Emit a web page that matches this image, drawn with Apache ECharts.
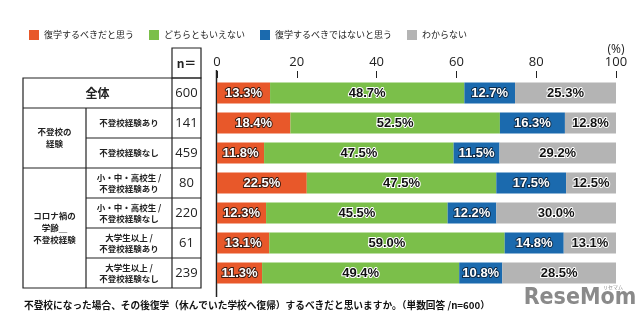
<!DOCTYPE html>
<html><head><meta charset="utf-8">
<script src="https://cdn.jsdelivr.net/npm/echarts@6/dist/echarts.min.js"></script>
<style>html,body{margin:0;padding:0;background:#fff}#c{width:640px;height:322px}</style>
</head><body><div id="c"></div>
<script>
// ---- data ----
const legendNames = ['復学するべきだと思う','どちらともいえない','復学するべきではないと思う','わからない'];
const rowLabels = ['全体','不登校経験あり','不登校経験なし','小・中・高校生 /\n不登校経験あり','小・中・高校生 /\n不登校経験なし','大学生以上 /\n不登校経験あり','大学生以上 /\n不登校経験なし'];
const nValues = [600,141,459,80,220,61,239];
const groupLabels = ['不登校の\n経験','コロナ禍の\n学齢＿\n不登校経験'];
const groupRows = [[1,2],[3,6]];
const shouldReturn = [13.3,18.4,11.8,22.5,12.3,13.1,11.3];
const neither = [48.7,52.5,47.5,47.5,45.5,59.0,49.4];
const shouldNot = [12.7,16.3,11.5,17.5,12.2,14.8,10.8];
const unknown = [25.3,12.8,29.2,12.5,30.0,13.1,28.5];
const xTicks = [0,20,40,60,80,100];
const footerText = '不登校になった場合、その後復学（休んでいた学校へ復帰）するべきだと思いますか。（単数回答 /n=600）';

const colors = ['#E8582A','#7BBF4A','#1B6AAE','#B4B4B4'];
const seriesData = [shouldReturn, neither, shouldNot, unknown];
const labelFill = ['#fff','#111','#fff','#111'];
const labelStroke = ['#3a1a10','#fff','#0d2a48','#fff'];
const numFont = "'Liberation Sans',sans-serif";
const jpFont = "'Noto Sans CJK JP',sans-serif";

const chart = echarts.init(document.getElementById('c'), null, {renderer:'canvas'});
chart.setOption({
  animation:false,
  legend:{left:24, top:25, itemWidth:10, itemHeight:10, itemGap:15, icon:'rect',
    textStyle:{fontSize:9, color:'#222', fontFamily:jpFont}, data:legendNames},
  grid:{left:217, right:24, top:78, height:210},
  xAxis:{type:'value', position:'top', min:0, max:100, interval:20,
    axisLine:{show:false}, splitLine:{show:false},
    axisTick:{show:true, length:7, lineStyle:{color:'#222', width:1}},
    axisLabel:{margin:9, fontSize:13, color:'#222', fontFamily:"'Open Sans',sans-serif",
      formatter:v=>xTicks.includes(v)?String(v):''}},
  yAxis:{type:'category', inverse:true, data:rowLabels,
    axisLine:{show:false}, axisTick:{show:false}, axisLabel:{show:false}},
  series: legendNames.map((name,i)=>({
    name, type:'bar', stack:'all', barWidth:21, data:seriesData[i],
    itemStyle:{color:colors[i]},
    label:{show:true, position:'inside', formatter:p=>p.value.toFixed(1)+'%',
      fontFamily:numFont, fontWeight:'bold', fontSize:13, color:labelFill[i],
      textBorderColor:labelStroke[i], textBorderWidth:2}
  }))
});

// ---- table & decorations positioned from axis scales ----
const yc = i => chart.convertToPixel({yAxisIndex:0}, i);
const x0 = chart.convertToPixel({xAxisIndex:0}, 0);
const x100 = chart.convertToPixel({xAxisIndex:0}, 100);
const band = yc(1) - yc(0);
const tTop = yc(0) - band/2, tBottom = yc(rowLabels.length-1) + band/2;
const TL = 23, TG = 86, TN = 172, TR = 201;
const line = (x1,y1,x2,y2,w) => ({type:'line', shape:{x1,y1,x2,y2}, style:{stroke:'#222', lineWidth:w||1.2}, silent:true});
const text = (x,y,t,o) => ({type:'text', x, y, style:Object.assign({text:t, align:'center', verticalAlign:'middle', fill:'#222', fontFamily:jpFont}, o||{}), silent:true});
const g = [];
g.push({type:'rect', shape:{x:TL, y:tTop, width:TR-TL, height:tBottom-tTop}, style:{fill:'none', stroke:'#222', lineWidth:1.2}});
g.push({type:'rect', shape:{x:TN, y:tTop-band, width:TR-TN, height:band}, style:{fill:'none', stroke:'#222', lineWidth:1.2}});
g.push(line(TN, tTop, TN, tBottom));
g.push(line(TG, yc(1)-band/2, TG, tBottom));
for (let k=1;k<rowLabels.length;k++){
  const y = yc(k)-band/2;
  const full = groupRows.some(r=>r[0]===k);
  g.push(line(full?TL:TG, y, TR, y));
}
g.push(text((TN+TR)/2, tTop-band/2, 'n＝', {fontSize:12, fontWeight:'bold'}));
rowLabels.forEach((lab,i)=>{
  if (i===0) g.push(text((TL+TN)/2, yc(0), lab, {fontSize:12, fontWeight:'bold'}));
  else g.push(text((TG+TN)/2, yc(i), lab, {fontSize:8.5, fontWeight:'bold', lineHeight:11}));
  g.push(text((TN+TR)/2, yc(i), String(nValues[i]), {fontSize:13, fontFamily:"'Open Sans',sans-serif"}));
});
groupLabels.forEach((lab,j)=>{
  const [a,b] = groupRows[j];
  g.push(text((TL+TG)/2, (yc(a)+yc(b))/2, lab, {fontSize:8.5, fontWeight:'bold', lineHeight:12}));
});
g.push(line(x0-0.5, tTop-8, x0-0.5, tBottom+9, 1.5));
g.push(text(x100, 50, '(%)', {fontSize:12, fontFamily:"'Open Sans',sans-serif"}));
g.push(text(24, 305, footerText, {align:'left', fontSize:9.7, fontWeight:'bold', fill:'#111'}));
g.push(text(580, 298, 'ReseMom', {fontSize:23, fontWeight:'bold', fill:'#8a8a8a', fontFamily:"'Liberation Sans Narrow','DejaVu Sans Condensed',sans-serif"}));
g.push(text(613, 287, 'リセマム', {fontSize:5, fill:'#8a8a8a'}));
chart.setOption({graphic:{elements:g}});
</script>
</body></html>
